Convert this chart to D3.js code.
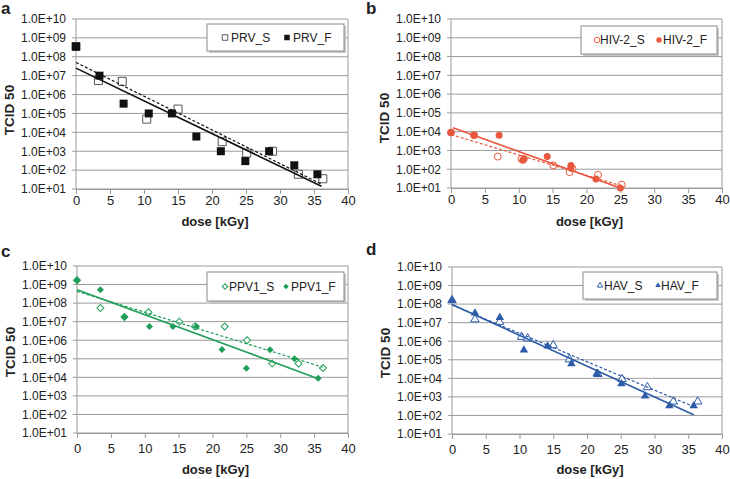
<!DOCTYPE html>
<html>
<head>
<meta charset="utf-8">
<script src="https://cdn.jsdelivr.net/npm/d3@7"></script>
<style>
  body { margin: 0; background: #fff; }
  svg { display: block; font-family: "Liberation Sans", Arial, sans-serif; }
</style>
</head>
<body>
<div id="chart"></div>
<script>
// tick values
const doseTicks = [0, 5, 10, 15, 20, 25, 30, 35, 40];
const tcidTicks = [1e1, 1e2, 1e3, 1e4, 1e5, 1e6, 1e7, 1e8, 1e9, 1e10];
const tcidLabels = ["1.0E+01", "1.0E+02", "1.0E+03", "1.0E+04", "1.0E+05",
                    "1.0E+06", "1.0E+07", "1.0E+08", "1.0E+09", "1.0E+10"];

// a) PRV  [dose kGy, TCID50]
const prvS = [[0, 3.5e8], [3.3, 5.5e6], [6.8, 5e6], [10.4, 5e4], [15.0, 1.7e5], [21.5, 3.2e3],
              [25.1, 8e2], [28.9, 1e3], [32.7, 6e1], [36.3, 3.5e1]];
const prvF = [[0, 3.5e8], [3.45, 1e7], [7.0, 3.3e5], [10.7, 1e5], [14.1, 1e5], [17.7, 6e3],
              [21.3, 1e3], [24.9, 3e2], [28.4, 1e3], [32.1, 1.8e2], [35.5, 6e1]];
const prvSFit = [[0, 5e7], [36.1, 18]];
const prvFFit = [[0, 2.5e7], [36.1, 14]];

// b) HIV-2
const hivS = [[0, 9e3], [3.4, 6.5e3], [6.9, 4.7e2], [10.4, 3.5e2], [15.1, 1.6e2], [17.5, 7e1],
              [17.9, 1.1e2], [21.7, 5e1], [25.2, 1.5e1]];
const hivF = [[0, 9e3], [3.4, 6.5e3], [7.1, 6.5e3], [10.6, 3e2], [10.8, 3.6e2], [14.2, 4.8e2],
              [17.7, 1.6e2], [17.7, 1.2e2], [21.4, 3e1], [25.0, 1e1]];
const hivSFit = [[0, 7e3], [25.2, 1.3e1]];
const hivFFit = [[0.3, 1.6e4], [25.0, 1e1]];

// c) PPV1
const ppvS = [[0, 1.7e9], [3.45, 5.5e7], [7.0, 1.8e7], [10.55, 3.2e7], [15.1, 1e7], [17.4, 5.5e6],
              [21.8, 5.5e6], [25.1, 1e6], [28.8, 5.5e4], [32.7, 5.5e4], [36.3, 3.2e4]];
const ppvF = [[0, 1.7e9], [3.45, 5.3e8], [7.0, 1.8e7], [10.7, 5.5e6], [14.15, 5.5e6], [17.65, 5.5e6],
              [21.4, 3.2e5], [25.0, 3.1e4], [28.5, 3.1e5], [32.1, 1e5], [35.6, 9e3]];
const ppvSFit = [[0, 4.3e8], [36.3, 3.5e4]];
const ppvFFit = [[0, 5.3e8], [35.6, 8.5e3]];

// d) HAV
const havS = [[0, 1.6e8], [3.4, 1.5e7], [7.05, 1.1e7], [10.3, 1.7e6], [11.2, 1.4e6], [15.0, 6e5],
              [17.4, 1.05e5], [21.6, 1.7e4], [25.2, 9e3], [28.95, 3.3e3], [32.8, 5.6e2], [36.4, 5.6e2]];
const havF = [[0, 1.6e8], [3.4, 3.3e7], [7.08, 1.9e7], [10.65, 3.3e5], [14.16, 5.5e5], [17.7, 6e4],
              [21.45, 1.8e4], [25.1, 5e3], [28.6, 1.1e3], [32.2, 3.3e2], [35.8, 3.3e2]];
const havSFit = [[0, 9e7], [35.8, 3e2]];
const havFFit = [[0, 9.5e7], [35.8, 1.1e2]];

const panels = [
  { letter: "a", lx: 1, ly: 14, x0: 76, x1: 348, y0: 19, y1: 189, tickGap: 15, labGap: 37, ylabY: 110,
    color: "#111", shape: "square", size: 8, names: ["PRV_S", "PRV_F"], S: prvS, F: prvF, sFit: prvSFit, fFit: prvFFit,
    legend: { x: 207, y: 24, w: 137, h: 27, m1: 18, t1: 24, m2: 80, t2: 86 } },
  { letter: "b", lx: 366, ly: 14, x0: 451, x1: 722, y0: 19, y1: 188, tickGap: 15, labGap: 38, ylabY: 118,
    color: "#e9573f", shape: "circle", size: 7, names: ["HIV-2_S", "HIV-2_F"], S: hivS, F: hivF, sFit: hivSFit, fFit: hivFFit,
    legend: { x: 581, y: 26, w: 136, h: 28, m1: 16, t1: 19, m2: 78, t2: 82 } },
  { letter: "c", lx: 1, ly: 257, x0: 77, x1: 348, y0: 266, y1: 433, tickGap: 19, labGap: 41, ylabY: 352,
    color: "#1e9e58", shape: "diamond", size: 7, names: ["PPV1_S", "PPV1_F"], S: ppvS, F: ppvF, sFit: ppvSFit, fFit: ppvFFit,
    legend: { x: 207, y: 272, w: 137, h: 29, m1: 18, t1: 22, m2: 79, t2: 84 } },
  { letter: "d", lx: 366, ly: 255, x0: 452, x1: 722, y0: 267, y1: 434, tickGap: 19, labGap: 40, ylabY: 353,
    color: "#2d5ba8", shape: "triangle", size: 8.5, names: ["HAV_S", "HAV_F"], S: havS, F: havF, sFit: havSFit, fFit: havFFit,
    legend: { x: 583, y: 272, w: 134, h: 27, m1: 17, t1: 21, m2: 75, t2: 78 } }
];

const svg = d3.select("#chart").append("svg")
  .attr("width", 730).attr("height", 479);

const gridColor = "#9a9a9a";
const textColor = "#222";

function symbolPath(shape, s) {
  if (shape === "square") return d3.symbol(d3.symbolSquare, s * s)();
  if (shape === "circle") return d3.symbol(d3.symbolCircle, Math.PI * s * s / 4)();
  if (shape === "diamond") return d3.symbol(d3.symbolSquare, s * s / 2)();
  return d3.symbol(d3.symbolTriangle, 0.433 * s * s)();
}

function drawMarkers(g, data, p, x, y, open) {
  g.selectAll(null)
    .data(data)
    .enter()
    .append("path")
    .attr("d", symbolPath(p.shape, p.size))
    .attr("transform", d => `translate(${x(d[0])},${y(d[1])})` + (p.shape === "diamond" ? " rotate(45)" : ""))
    .attr("fill", open ? "#fff" : p.color)
    .attr("stroke", open ? (p.shape === "square" ? "#555" : p.color) : "none")
    .attr("stroke-width", 1);
}

panels.forEach(p => {
  const x = d3.scaleLinear().domain([0, 40]).range([p.x0, p.x1]);
  const y = d3.scaleLog().domain([1e1, 1e10]).range([p.y1, p.y0]);
  const g = svg.append("g");

  // horizontal grid
  g.selectAll(null).data(tcidTicks).enter().append("line")
    .attr("x1", p.x0 - 4).attr("x2", p.x1)
    .attr("y1", d => y(d)).attr("y2", d => y(d))
    .attr("stroke", gridColor).attr("stroke-width", 1);

  // axes frame
  g.append("line").attr("x1", p.x0).attr("x2", p.x0).attr("y1", p.y0).attr("y2", p.y1)
    .attr("stroke", gridColor);
  g.append("line").attr("x1", p.x1).attr("x2", p.x1).attr("y1", p.y0).attr("y2", p.y1)
    .attr("stroke", gridColor);

  const xAxis = d3.axisBottom(x).tickValues(doseTicks).tickSize(5).tickPadding(p.tickGap - 13);
  const xg = g.append("g").attr("transform", `translate(0,${p.y1})`).call(xAxis);
  xg.select(".domain").attr("stroke", gridColor);
  xg.selectAll(".tick line").attr("stroke", gridColor);
  xg.selectAll("text").attr("fill", textColor).style("font-size", "13px")
    .style("font-family", "'Liberation Sans', Arial, sans-serif");

  const yAxis = d3.axisLeft(y).tickValues(tcidTicks).tickSize(0).tickPadding(10)
    .tickFormat((d, i) => tcidLabels[i]);
  const yg = g.append("g").attr("transform", `translate(${p.x0},0)`).call(yAxis);
  yg.select(".domain").remove();
  yg.selectAll("text").attr("fill", textColor).style("font-size", "12px")
    .style("font-family", "'Liberation Sans', Arial, sans-serif");

  // markers, then trend lines on top
  drawMarkers(g, p.S, p, x, y, true);
  drawMarkers(g, p.F, p, x, y, false);

  const line = d3.line().x(d => x(d[0])).y(d => y(d[1]));
  g.append("path").datum(p.sFit).attr("d", line)
    .attr("fill", "none").attr("stroke", p.color).attr("stroke-width", 1.2)
    .attr("stroke-dasharray", "3,2");
  g.append("path").datum(p.fFit).attr("d", line)
    .attr("fill", "none").attr("stroke", p.color).attr("stroke-width", 1.6);

  // axis titles
  g.append("text")
    .attr("transform", `translate(${p.x0 - 62},${p.ylabY}) rotate(-90)`)
    .attr("text-anchor", "middle").attr("font-weight", "bold").attr("font-size", 13.5)
    .attr("fill", textColor).text("TCID 50");
  g.append("text")
    .attr("x", (p.x0 + p.x1) / 2 + 3).attr("y", p.y1 + p.labGap)
    .attr("text-anchor", "middle").attr("font-weight", "bold").attr("font-size", 13)
    .attr("fill", textColor).text("dose [kGy]");

  // panel letter
  g.append("text").attr("x", p.lx).attr("y", p.ly)
    .attr("font-weight", "bold").attr("font-size", 17).attr("fill", textColor).text(p.letter);

  // legend
  const L = p.legend;
  g.append("rect").attr("x", L.x + 2).attr("y", L.y + 2).attr("width", L.w).attr("height", L.h)
    .attr("fill", "#c8c8c8");
  g.append("rect").attr("x", L.x).attr("y", L.y).attr("width", L.w).attr("height", L.h)
    .attr("fill", "#fff").attr("stroke", "#8a8a8a").attr("stroke-width", 1);
  const cy = L.y + L.h / 2;
  [[L.m1, L.t1, true], [L.m2, L.t2, false]].forEach(([m, t, open], i) => {
    g.append("path")
      .attr("d", symbolPath(p.shape, 5.5))
      .attr("transform", `translate(${L.x + m},${cy})` + (p.shape === "diamond" ? " rotate(45)" : ""))
      .attr("fill", open ? "#fff" : p.color)
      .attr("stroke", open ? (p.shape === "square" ? "#555" : p.color) : "none");
    g.append("text").attr("x", L.x + t).attr("y", cy).attr("dy", "0.35em")
      .attr("font-size", 12).attr("fill", textColor).text(p.names[i]);
  });
});
</script>
</body>
</html>
